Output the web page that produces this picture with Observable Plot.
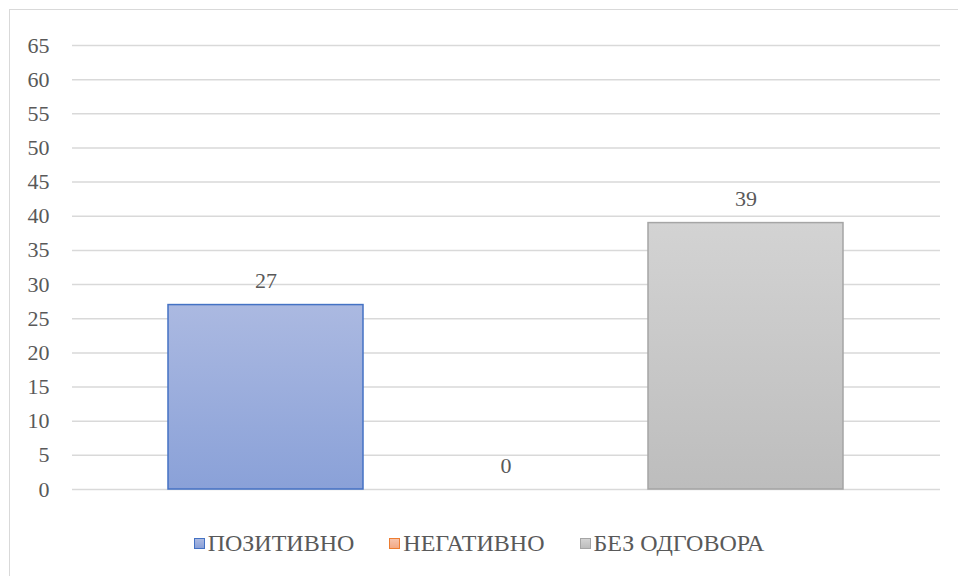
<!DOCTYPE html>
<html>
<head>
<meta charset="utf-8">
<script src="https://cdn.jsdelivr.net/npm/d3@7"></script>
<script src="https://cdn.jsdelivr.net/npm/@observablehq/plot@0.6"></script>
<style>
  html, body { margin: 0; padding: 0; background: #fff; overflow: hidden; width: 958px; height: 576px; }
  #frame { position: absolute; left: 9px; top: 9px; width: 1000px; height: 620px; border: 1.5px solid #d9d9d9; box-sizing: border-box; }
  #chart { position: absolute; left: 0; top: 0; }
  #legend { position: absolute; left: 0; top: 529px; width: 958px; display: flex; justify-content: center; gap: 35px;
            font-size: 24px; color: #595959; line-height: 28px; }
  .item { display: flex; align-items: center; }
  .sw { width: 9px; height: 9px; border: 1.5px solid; margin-right: 3px; }
  html body #chart svg text, html body #legend span { font-family: 'Liberation Serif', 'Times New Roman', serif !important; }
</style>
</head>
<body>
<div id="frame"></div>
<div id="chart"></div>
<div id="legend"></div>
<script>
const categories = ["ПОЗИТИВНО", "НЕГАТИВНО", "БЕЗ ОДГОВОРА"];
const values = [27, 0, 39];
const yTicks = [0, 5, 10, 15, 20, 25, 30, 35, 40, 45, 50, 55, 60, 65];

const gradIds = ["gBlue", "gOrange", "gGray"];
const gradStops = [["#abb9e1", "#8aa1d8"], ["#f6c3ac", "#f3a985"], ["#d3d3d3", "#bdbdbd"]];
const strokes = ["#4472c4", "#ed7d31", "#a5a5a5"];

const data = categories.map((c, i) => ({cat: c, value: values[i], idx: i}));

const font = "Liberation Serif";
const setFont = el => el.style.setProperty("font-family", "'Liberation Serif', 'Times New Roman', serif", "important");

const plot = Plot.plot({
  width: 958,
  height: 510,
  marginLeft: 72,
  marginRight: 18,
  marginTop: 45,
  marginBottom: 21,
  style: {fontFamily: font, color: "#595959", background: "transparent"},
  x: {type: "band", domain: categories, range: [144.25, 865.75], paddingInner: 0.189, paddingOuter: 0.0945, axis: null},
  y: {domain: [0, 65]},
  color: {type: "identity"},
  marks: [
    Plot.gridY(yTicks, {stroke: "#d9d9d9", strokeOpacity: 1, strokeWidth: 1.5}),
    Plot.axisY(yTicks, {tickSize: 0, tickPadding: 23, fontSize: 22, fill: "#595959", label: null}),
    Plot.barY(data.filter(d => d.value > 0), {
      x: "cat", y: "value",
      fill: d => `url(#${gradIds[d.idx]})`,
      stroke: d => strokes[d.idx],
      strokeWidth: 1.5
    }),
    Plot.text(data, {x: "cat", y: "value", text: d => String(d.value), dy: -24, fontSize: 22, fill: "#595959"})
  ]
});

// gradients
const ns = "http://www.w3.org/2000/svg";
const defs = document.createElementNS(ns, "defs");
gradIds.forEach((id, i) => {
  const g = document.createElementNS(ns, "linearGradient");
  g.setAttribute("id", id);
  g.setAttribute("x1", "0"); g.setAttribute("y1", "0");
  g.setAttribute("x2", "0"); g.setAttribute("y2", "1");
  gradStops[i].forEach((c, k) => {
    const s = document.createElementNS(ns, "stop");
    s.setAttribute("offset", k === 0 ? "0" : "1");
    s.setAttribute("stop-color", c);
    g.appendChild(s);
  });
  defs.appendChild(g);
});
plot.insertBefore(defs, plot.firstChild);
document.getElementById("chart").appendChild(plot);
plot.querySelectorAll("text, g").forEach(setFont);
setFont(plot);

// legend
const legend = document.getElementById("legend");
categories.forEach((c, i) => {
  const item = document.createElement("div");
  item.className = "item";
  const sw = document.createElement("span");
  sw.className = "sw";
  sw.style.borderColor = strokes[i];
  sw.style.background = `linear-gradient(${gradStops[i][0]}, ${gradStops[i][1]})`;
  const t = document.createElement("span");
  t.textContent = c;
  setFont(t);
  item.appendChild(sw);
  item.appendChild(t);
  legend.appendChild(item);
});
</script>
</body>
</html>
